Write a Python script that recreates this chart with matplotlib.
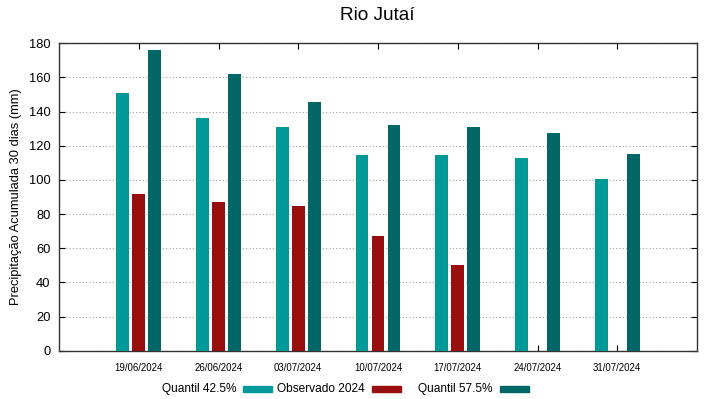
import matplotlib
matplotlib.use("Agg")
import matplotlib.pyplot as plt
import numpy as np
from matplotlib.patches import Rectangle

plt.rcParams["font.family"] = ["Liberation Sans", "DejaVu Sans"]

dates = ["19/06/2024", "26/06/2024", "03/07/2024", "10/07/2024",
         "17/07/2024", "24/07/2024", "31/07/2024"]
q425 = [151.1, 136.1, 130.8, 114.6, 114.6, 112.6, 100.6]
obs2024 = [91.6, 86.9, 84.7, 67.3, 50.0, np.nan, np.nan]
q575 = [175.9, 162.2, 145.8, 132.1, 130.8, 127.6, 115.3]
labels = ["Quantil 42.5%", "Observado 2024", "Quantil 57.5%"]
colors = ["#009999", "#990e0e", "#006666"]

W, H = 719, 399
fig = plt.figure(figsize=(W / 100, H / 100), dpi=100)
ax = fig.add_axes([59 / W, (H - 350.7) / H, (697 - 59) / W, (350.7 - 43.3) / H])

x = np.arange(len(dates))
width = 0.16
for off, vals, c in zip([-0.2, 0.0, 0.2], [q425, obs2024, q575], colors):
    ax.bar(x + off, vals, width=width, color=c, zorder=3)

ax.set_xlim(-1, 7)
ax.set_ylim(0, 180)
ax.set_yticks(np.arange(0, 181, 20))
ax.set_xticks(x)
ax.set_xticklabels(dates, fontsize=6.9)
ax.tick_params(axis="y", labelsize=9.3, direction="in", length=4, right=True, pad=6)
ax.tick_params(axis="x", direction="in", length=4, top=True, pad=9)
ax.yaxis.grid(True, linestyle=(0, (1, 2)), color="#a0a0a0", linewidth=0.8, zorder=0)
for s in ax.spines.values():
    s.set_linewidth(1.0)
    s.set_color("#333333")

ax.set_ylabel("Precipitação Acumulada 30 dias (mm)", fontsize=9.3, labelpad=5)
fig.text(377 / W, 1 - 15 / H, "Rio Jutaí", ha="center", va="center", fontsize=13.7)

# legend (gnuplot style: text then sample)
text_right = [237, 365, 493]
sample_left = [243, 372, 500]
ly = 1 - 389 / H
for lab, tr, sl, c in zip(labels, text_right, sample_left, colors):
    fig.text(tr / W, ly, lab, ha="right", va="center", fontsize=8.6)
    fig.patches.append(Rectangle((sl / W, ly - 3 / H), 29 / W, 6 / H,
                                 transform=fig.transFigure, color=c))

fig.savefig("out.png", dpi=100)
